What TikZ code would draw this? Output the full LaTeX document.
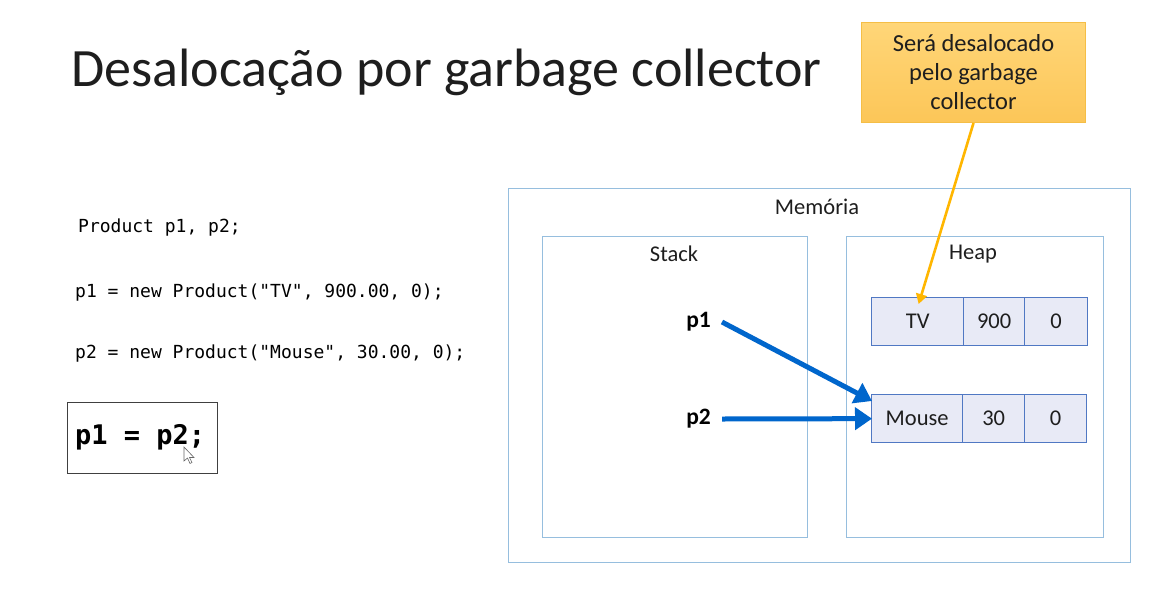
\documentclass[tikz,border=0pt]{standalone}
\usepackage{fontspec}
\setmainfont{Carlito}
\newfontfamily\codefont{DejaVu Sans Mono}
\usetikzlibrary{arrows.meta}
\definecolor{frameblue}{RGB}{150,190,222}
\definecolor{cellfill}{RGB}{232,234,246}
\definecolor{cellline}{RGB}{80,120,195}
\definecolor{ptrblue}{RGB}{0,102,204}
\definecolor{noteorange}{RGB}{255,182,0}
\definecolor{notetop}{RGB}{255,214,120}
\definecolor{notebot}{RGB}{252,198,88}
\definecolor{noteline}{RGB}{245,190,70}
\definecolor{ink}{RGB}{30,30,30}
\tikzset{
  region/.style={draw=frameblue, line width=1.2pt, anchor=north west, inner sep=0pt},
  cell/.style={draw=cellline, fill=cellfill, line width=1.3pt, anchor=north west,
    inner sep=0pt, minimum height=48pt, font=\fontsize{22.5pt}{26pt}\selectfont, text=ink},
  caption/.style={font=\fontsize{22.5pt}{26pt}\selectfont, text=ink},
  codeline/.style={font=\codefont\fontsize{18pt}{21pt}\selectfont, anchor=west, inner sep=0pt},
  var/.style={font=\bfseries\fontsize{23.5pt}{26pt}\selectfont, anchor=east, inner sep=0pt},
  ptr/.style={draw=ptrblue, line width=5pt, -{Triangle[length=17pt,width=22pt]}},
}
\begin{document}
\begin{tikzpicture}[x=1pt,y=-1pt]
  \useasboundingbox[fill=white] (0,0) rectangle (1151,592);

  % title
  \node[anchor=west, inner sep=0pt, font=\fontsize{54pt}{60pt}\selectfont, text=ink]
    (title) at (71,72) {Desalocação por garbage collector};

  % code
  \node[codeline] (c1) at (78,228) {Product p1, p2;};
  \node[codeline] (c2) at (75,293) {p1 = new Product("TV", 900.00, 0);};
  \node[codeline] (c3) at (75,354) {p2 = new Product("Mouse", 30.00, 0);};
  \node[draw=black!75, line width=1pt, anchor=north west, minimum width=150pt,
    minimum height=71pt, inner sep=0pt] (assign) at (67,402) {};
  \node[anchor=west, inner sep=0pt, font=\codefont\bfseries\fontsize{27pt}{30pt}\selectfont]
    (assigntext) at (75,437) {p1 = p2;};
  % mouse pointer
  \draw[fill=white, draw=black!60, line width=0.6pt] (184,447) -- (184,461) -- (187.5,458)
    -- (190,463.5) -- (192,462.5) -- (189.5,457.5) -- (194,457.5) -- cycle;

  % memory regions
  \node[region, minimum width=622pt, minimum height=374pt] (mem) at (508,188) {};
  \node[caption] (memlabel) at (817,207) {Memória};
  \node[region, minimum width=265pt, minimum height=301pt] (stack) at (542,236) {};
  \node[caption] (stacklabel) at (674,254) {Stack};
  \node[region, minimum width=257pt, minimum height=301pt] (heap) at (846,236) {};
  \node[caption] (heaplabel) at (973,254) {Heap};

  % heap objects
  \node[cell, minimum width=92pt] (tv) at (871,297) {TV};
  \node[cell, minimum width=61pt] (tvprice) at (963,297) {900};
  \node[cell, minimum width=63pt] (tvqty) at (1024,297) {0};
  \node[cell, minimum width=91pt] (mouse) at (871,394) {Mouse};
  \node[cell, minimum width=62pt] (mouseprice) at (962,394) {30};
  \node[cell, minimum width=62pt] (mouseqty) at (1024,394) {0};

  % stack variables
  \node[var] (p1) at (711,322) {p1};
  \node[var] (p2) at (711,419) {p2};
  \draw[ptr] ([xshift=11pt]p1.east) -- ([xshift=1pt,yshift=-7pt]mouse.north west);
  \draw[ptr] ([xshift=11pt]p2.east) -- ([xshift=1pt]mouse.west);

  % note
  \node[draw=noteline, line width=1pt, top color=notetop, bottom color=notebot,
    anchor=north west, minimum width=224pt, minimum height=100pt, inner sep=0pt,
    align=center, font=\fontsize{24.5pt}{29pt}\selectfont, text=ink]
    (note) at (861,22) {Será desalocado\\pelo garbage\\collector};
  \draw[draw=noteorange, line width=2.6pt, -{Triangle[length=10pt,width=11pt]}]
    (note.south) -- ([xshift=1pt,yshift=-7pt]tv.north);
\end{tikzpicture}
\end{document}
